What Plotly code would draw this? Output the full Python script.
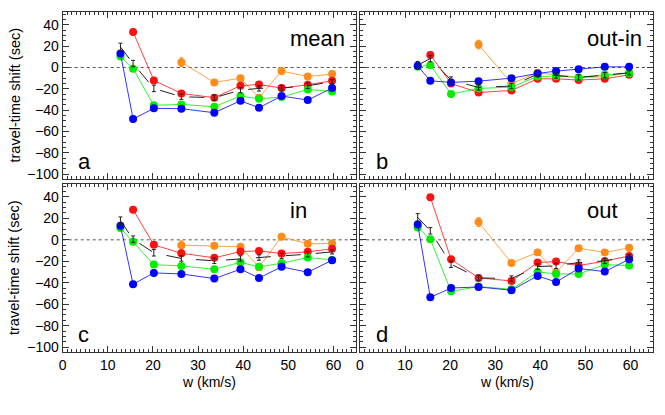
import plotly.graph_objects as go

# ---------------- data ----------------
W = [12.8, 15.6, 20.2, 26.3, 33.6, 39.4, 43.5, 48.5, 54.3, 59.7]

# panel a : mean
MEAN_BLACK = [19.3, 3.7, -19.6, -27.4, -28.3, -21.2, -19.6, -19.3, -17.1, -13.4]
MEAN_RED = [None, 33.3, -12.1, -24.3, -28.3, -17.1, -15.9, -19.3, -16.2, -12.5]
MEAN_ORANGE = [None, None, None, 5.0, -14.0, -10.0, -28.3, -3.4, -8.4, -6.2]
MEAN_GREEN = [10.3, -1.2, -35.5, -34.6, -36.8, -26.8, -29.3, -27.7, -20.6, -22.4]
MEAN_BLUE = [13.1, -48.3, -38.3, -38.6, -42.4, -31.2, -37.7, -26.8, -30.5, -19.3]

# panel b : out-in
OUTIN_BLACK = [2.2, 8.4, -11.8, -18.7, -17.4, -6.2, -7.5, -9.3, -7.2, -5.0]
OUTIN_RED = [None, 11.8, -15.0, -23.4, -21.5, -10.6, -10.6, -11.8, -10.6, -6.9]
OUTIN_ORANGE = [None, None, None, 21.5, -15.0, -5.0, -7.2, -9.3, -8.7, -4.7]
OUTIN_GREEN = [0.6, 2.2, -24.9, -19.6, -18.4, -8.4, -8.1, -9.3, -6.9, -5.3]
OUTIN_BLUE = [1.6, -12.5, -14.0, -12.8, -10.0, -5.6, -3.4, -1.6, 0.6, 0.6]

# panel c : in
IN_BLACK = [17.8, 0.6, -12.1, -17.4, -19.6, -17.4, -16.5, -15.0, -13.4, -11.2]
IN_RED = [None, 28.0, -4.7, -12.5, -16.8, -10.9, -10.3, -12.8, -11.2, -8.4]
IN_ORANGE = [None, None, None, -5.0, -5.6, -6.5, -25.5, 2.8, -3.7, -3.4]
IN_GREEN = [10.9, -1.9, -23.1, -24.3, -27.4, -20.9, -25.2, -21.8, -16.5, -18.7]
IN_BLUE = [13.1, -41.4, -30.8, -31.8, -36.1, -27.4, -35.5, -25.2, -30.2, -19.0]

# panel d : out
OUT_BLACK = [20.9, 8.4, -22.7, -35.5, -36.1, -24.9, -24.3, -21.2, -19.6, -15.6]
OUT_RED = [None, 39.6, -18.1, -35.5, -38.3, -21.2, -20.2, -24.0, -19.9, -15.0]
OUT_ORANGE = [None, None, None, 16.5, -21.5, -11.8, -30.5, -7.8, -11.8, -7.5]
OUT_GREEN = [11.5, 0.6, -48.0, -43.6, -46.1, -29.9, -31.8, -31.8, -23.1, -24.0]
OUT_BLUE = [14.3, -53.6, -44.9, -43.9, -47.0, -33.6, -39.3, -26.8, -29.6, -18.1]

# error estimates
BLACK_ERR = [3.5, 3.0, 3.0, 2.5, 2.5, 2.5, 2.5, 2.5, 2.5, 2.0]
COLOR_ERR = [2.5, 2.5, 2.5, 2.0, 2.0, 2.0, 2.0, 2.0, 2.0, 2.0]
ORANGE_ERR = [0, 0, 0, 4.0, 2.5, 2.5, 2.5, 2.5, 2.5, 3.0]

PANELS = [
    ("mean", "a", MEAN_BLACK, MEAN_RED, MEAN_ORANGE, MEAN_GREEN, MEAN_BLUE),
    ("out-in", "b", OUTIN_BLACK, OUTIN_RED, OUTIN_ORANGE, OUTIN_GREEN, OUTIN_BLUE),
    ("in", "c", IN_BLACK, IN_RED, IN_ORANGE, IN_GREEN, IN_BLUE),
    ("out", "d", OUT_BLACK, OUT_RED, OUT_ORANGE, OUT_GREEN, OUT_BLUE),
]

X_TICKS = [0, 10, 20, 30, 40, 50, 60]
Y_TICKS = [-100, -80, -60, -40, -20, 0, 20, 40]
Y_TITLE = "travel-time shift (sec)"
X_TITLE = "w (km/s)"

# ---------------- layout geometry ----------------
FW, FH = 665, 415
XDOM = [[62.7 / FW, 356 / FW], [360 / FW, 653 / FW]]
YDOM = [[1 - 179 / FH, 1 - 12 / FH], [1 - 352 / FH, 1 - 184 / FH]]
XR = [0, 65]
YR = [-104.5, 52]

FONT = "Liberation Sans, Arial, Helvetica, sans-serif"
AX = "#333333"
COLORS = {"red": "#ff1010", "orange": "#ff8c1a", "green": "#00ee00", "blue": "#0000ff"}

fig = go.Figure()


def err(arr, color):
    return dict(type="data", array=arr, visible=True, color=color, thickness=1, width=2)


for i, (name, letter, blk, red, ora, grn, blu) in enumerate(PANELS):
    xa = "x" if i == 0 else f"x{i + 1}"
    ya = "y" if i == 0 else f"y{i + 1}"
    for vals, cname, e in [(ora, "orange", ORANGE_ERR), (red, "red", COLOR_ERR),
                           (grn, "green", COLOR_ERR), (blu, "blue", COLOR_ERR)]:
        c = COLORS[cname]
        fig.add_trace(go.Scatter(
            x=W, y=vals, mode="lines+markers", xaxis=xa, yaxis=ya,
            line=dict(color=c, width=0.8),
            marker=dict(color=c, size=8, line=dict(width=0)),
            error_y=err(e, c), showlegend=False, cliponaxis=False))
    fig.add_trace(go.Scatter(
        x=W, y=blk, mode="lines", xaxis=xa, yaxis=ya,
        line=dict(color="#222222", width=1, dash="longdash"),
        error_y=err(BLACK_ERR, "#222222"), showlegend=False))

    col, row = i % 2, i // 2
    xkey = "xaxis" if i == 0 else f"xaxis{i + 1}"
    ykey = "yaxis" if i == 0 else f"yaxis{i + 1}"
    fig.layout[xkey] = dict(
        domain=XDOM[col], range=XR, anchor=ya, tickmode="array", tickvals=X_TICKS,
        ticks="inside", ticklen=6, tickwidth=1, tickcolor=AX, mirror="allticks",
        showline=True, linecolor=AX, linewidth=1, showgrid=False, zeroline=False,
        showticklabels=(row == 1), tickfont=dict(family=FONT, size=14, color="black"),
        minor=dict(ticks="inside", dtick=1, tick0=0, ticklen=3, tickcolor=AX, showgrid=False),
        automargin=False)
    fig.layout[ykey] = dict(
        domain=YDOM[row], range=YR, anchor=xa, tickmode="array", tickvals=Y_TICKS,
        ticks="inside", ticklen=6, tickwidth=1, tickcolor=AX, mirror="allticks",
        showline=True, linecolor=AX, linewidth=1, showgrid=False, zeroline=False,
        showticklabels=(col == 0), tickfont=dict(family=FONT, size=14, color="black"),
        minor=dict(ticks="inside", dtick=5, tick0=0, ticklen=3, tickcolor=AX, showgrid=False),
        automargin=False)

    fig.add_shape(type="line", x0=XR[0], x1=XR[1], y0=0, y1=0, xref=xa, yref=ya,
                  line=dict(color="#555555", width=1, dash="dot"), layer="below")
    fig.add_annotation(x=50, y=27, xref=xa, yref=ya, text=name, showarrow=False,
                       xanchor="left", yanchor="middle",
                       font=dict(family=FONT, size=22, color="black"))
    fig.add_annotation(x=3, y=-88, xref=xa, yref=ya, text=letter, showarrow=False,
                       xanchor="left", yanchor="middle",
                       font=dict(family=FONT, size=22, color="black"))

# axis titles
for row in range(2):
    yc = (YDOM[row][0] + YDOM[row][1]) / 2
    fig.add_annotation(x=14 / FW, y=yc, xref="paper", yref="paper", text=Y_TITLE,
                       textangle=-90, showarrow=False, xanchor="center", yanchor="middle",
                       font=dict(family=FONT, size=14.5, color="black"))
for col in range(2):
    xc = (XDOM[col][0] + XDOM[col][1]) / 2
    fig.add_annotation(x=xc, y=1 - 382 / FH, xref="paper", yref="paper", text=X_TITLE,
                       showarrow=False, xanchor="center", yanchor="middle",
                       font=dict(family=FONT, size=14, color="black"))

fig.update_layout(
    width=FW, height=FH, margin=dict(l=0, r=0, t=0, b=0),
    paper_bgcolor="white", plot_bgcolor="white", showlegend=False,
    font=dict(family=FONT, size=14, color="black"))

fig.write_html("out.html", config={"displayModeBar": False},
               post_script="document.body.style.margin='0';")
